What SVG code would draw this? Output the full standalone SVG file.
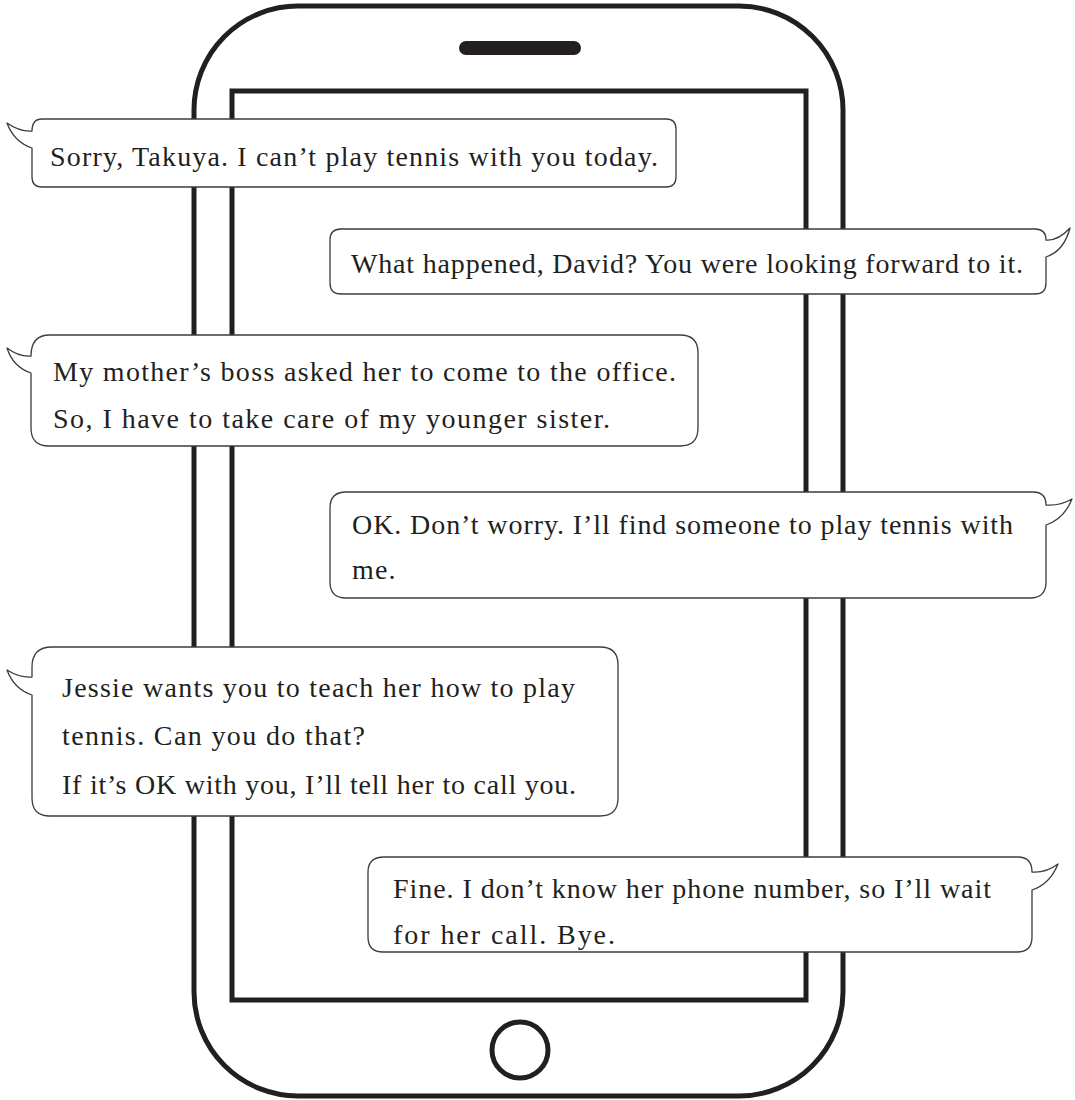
<svg xmlns="http://www.w3.org/2000/svg" width="1075" height="1100" viewBox="0 0 1075 1100">
<style>
.ph{fill:none;stroke:#231f20;stroke-width:5}
.bub{fill:#ffffff;stroke:#3c3c3c;stroke-width:1.3;stroke-linejoin:round}
.t{font-family:"Liberation Serif","Times New Roman",serif;font-size:28px;fill:#231f20}
</style>
<rect width="1075" height="1100" fill="#ffffff"/>
<g id="phone">
<rect class="ph" x="194" y="6" width="649" height="1090" rx="104" ry="104"/>
<rect class="ph" x="232" y="91" width="574" height="909" stroke-width="5.5"/>
<rect x="459" y="41" width="122" height="14" rx="7" fill="#231f20"/>
<circle class="ph" cx="520" cy="1050" r="28" stroke-width="4"/>
</g>
<g id="connectors"></g>
<g id="msg1">
<path class="bub" d="M42,119 H666 Q676,119 676,129 V177 Q676,187 666,187 H42 Q32,187 32,177 V148 Q14,142 7,123 Q20,132 32,131 Q32,119 42,119 Z"/>
<text class="t" x="50" y="166" textLength="608" lengthAdjust="spacing">Sorry, Takuya. I can’t play tennis with you today.</text>
</g>
<g id="msg2">
<path class="bub" d="M341,229 H1035 Q1046,229 1046,240 Q1058,241 1070,228 Q1064,251 1046,257 V283 Q1046,294 1035,294 H341 Q330,294 330,283 V240 Q330,229 341,229 Z"/>
<text class="t" x="351" y="273" textLength="672" lengthAdjust="spacing">What happened, David? You were looking forward to it.</text>
</g>
<g id="msg3">
<path class="bub" d="M50,335 H680 Q698,335 698,353 V428 Q698,446 680,446 H49 Q31,446 31,428 V373 Q13,367 7,348 Q19,357 31,356 Q31,335 50,335 Z"/>
<text class="t" x="53" y="381" textLength="623" lengthAdjust="spacing">My mother’s boss asked her to come to the office.</text>
<text class="t" x="53" y="428" textLength="557" lengthAdjust="spacing">So, I have to take care of my younger sister.</text>
</g>
<g id="msg4">
<path class="bub" d="M348,492 H1033 Q1046,492 1046,505 Q1060,506 1072,499 Q1064,519 1046,525 V582 Q1046,598 1030,598 H346 Q330,598 330,582 V508 Q330,492 346,492 Z"/>
<text class="t" x="352" y="534" textLength="661" lengthAdjust="spacing">OK. Don’t worry. I’ll find someone to play tennis with</text>
<text class="t" x="352" y="579" letter-spacing="1.1">me.</text>
</g>
<g id="msg5">
<path class="bub" d="M52,647 H600 Q618,647 618,665 V798 Q618,816 600,816 H50 Q32,816 32,798 V695 Q14,689 7,670 Q20,678 32,677 V667 Q32,647 52,647 Z"/>
<text class="t" x="62" y="697" textLength="513" lengthAdjust="spacing">Jessie wants you to teach her how to play</text>
<text class="t" x="62" y="745" textLength="303" lengthAdjust="spacing">tennis. Can you do that?</text>
<text class="t" x="62" y="794" textLength="514" lengthAdjust="spacing">If it’s OK with you, I’ll tell her to call you.</text>
</g>
<g id="msg6">
<path class="bub" d="M384,857 H1018 Q1032,857 1032,872 Q1046,873 1058,864 Q1050,884 1032,890 V937 Q1032,952 1017,952 H383 Q368,952 368,937 V872 Q368,857 384,857 Z"/>
<text class="t" x="393" y="898" textLength="598" lengthAdjust="spacing">Fine. I don’t know her phone number, so I’ll wait</text>
<text class="t" x="393" y="944" textLength="222" lengthAdjust="spacing">for her call. Bye.</text>
</g>
</svg>
